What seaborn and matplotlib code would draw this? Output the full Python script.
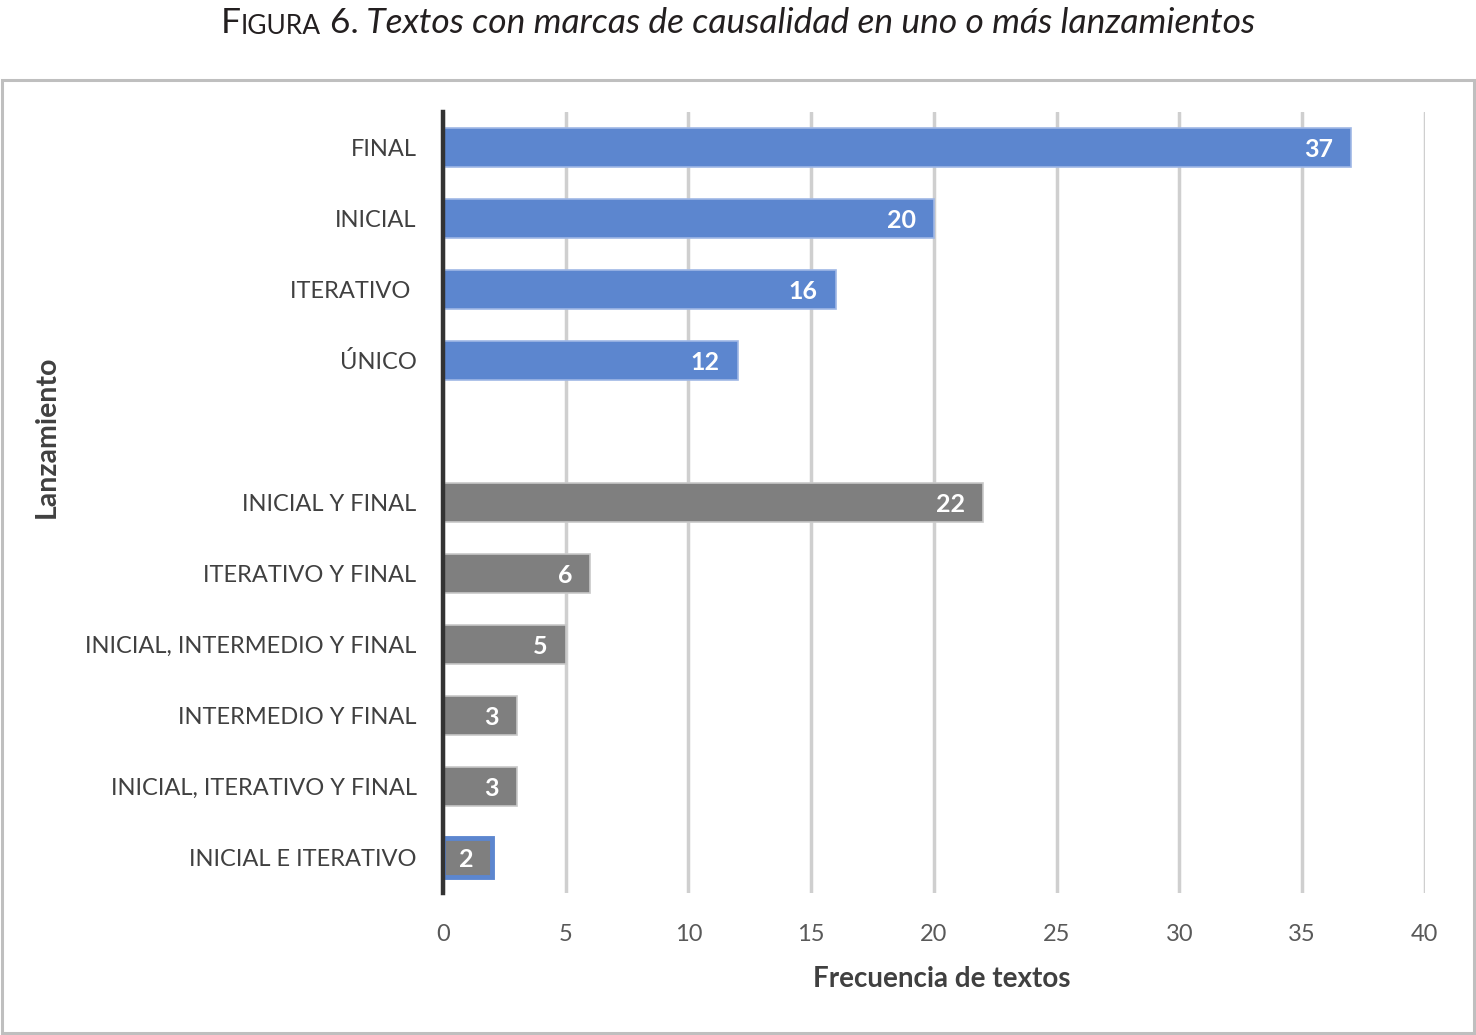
import pandas as pd
import matplotlib
matplotlib.use("Agg")
import matplotlib.pyplot as plt
import seaborn as sns
from matplotlib.patches import Rectangle

# datos
categorias = ["FINAL", "INICIAL", "ITERATIVO ", "ÚNICO",
              "INICIAL Y FINAL", "ITERATIVO Y FINAL", "INICIAL, INTERMEDIO Y FINAL",
              "INTERMEDIO Y FINAL", "INICIAL, ITERATIVO Y FINAL", "INICIAL E ITERATIVO"]
frecuencias = [37, 20, 16, 12, 22, 6, 5, 3, 3, 2]
grupos = ["uno", "uno", "uno", "uno",
          "varios", "varios", "varios", "varios", "varios", "varios"]

# hueco vacio entre los dos grupos
orden = categorias[:4] + [""] + categorias[4:]

df = pd.DataFrame({"categoria": categorias, "frecuencia": frecuencias, "grupo": grupos})

sns.set_theme(style="white")
plt.rcParams["font.family"] = ["Lato", "DejaVu Sans"]

AZUL = "#5C86CF"
GRIS = "#7F7F7F"

fig = plt.figure(figsize=(14.76, 10.35), dpi=100)
ax = fig.add_axes([0.3001, 0.1372, 0.6653, 0.7546])

sns.barplot(data=df, x="frecuencia", y="categoria", hue="grupo", order=orden,
            palette={"uno": AZUL, "varios": GRIS}, dodge=False, width=0.56,
            saturation=1, legend=False, orient="h", ax=ax, zorder=3)

bordes = {"uno": "#9fb7e5", "varios": "#c8c8c8"}
for cont, g in zip(ax.containers, ["uno", "varios"]):
    for bar in cont:
        bar.set_edgecolor(bordes[g])
        bar.set_linewidth(1.2)
    etiquetas = ax.bar_label(cont, padding=-13, color="white", fontweight="bold", fontsize=18)
    for t in etiquetas:
        t.set_ha("right")
        t.set_va("center_baseline")

# la ultima barra tiene contorno azul
pos_ultima = orden.index("INICIAL E ITERATIVO")
for bar in ax.patches:
    if round(bar.get_y() + bar.get_height() / 2) == pos_ultima:
        bar.set_edgecolor(AZUL)
        bar.set_linewidth(3.5)

ax.set_xlim(0, 40)
ax.set_xticks(range(0, 41, 5))
ax.set_ylim(10.5, -0.5)
ax.grid(axis="x", color="#cfcfcf", linewidth=2.5, zorder=0)
ax.grid(axis="y", visible=False)
ax.set_axisbelow(True)

for s in ["top", "right", "bottom"]:
    ax.spines[s].set_visible(False)
ax.spines["left"].set_color("#333333")
ax.spines["left"].set_linewidth(3.2)
ax.spines["left"].set_zorder(5)

ax.tick_params(axis="y", length=0, pad=19, labelsize=17, labelcolor="#404040")
ax.tick_params(axis="x", length=0, pad=22, labelsize=17, labelcolor="#595959")

ax.set_xlabel("Frecuencia de textos", fontsize=20, fontweight="bold", color="#404040")
ax.xaxis.set_label_coords(0.508, -0.094)
ax.set_ylabel("Lanzamiento", fontsize=20.5, fontweight="bold", color="#404040")
ax.yaxis.set_label_coords(-0.39, 0.584)

# marco gris alrededor del grafico
fig.patches.append(Rectangle((0.0015, 0.002), 0.997, 0.9207, transform=fig.transFigure,
                             fill=False, edgecolor="#bfbfbf", linewidth=2.2))

# titulo con versalitas
partes = [("IGURA", 19, "normal"), (" 6.", 25.5, "normal"),
          (" Textos con marcas de causalidad en uno o más lanzamientos", 25.5, "italic")]
primero = fig.text(0.149, 0.962, "F", fontsize=25.5, va="bottom", color="#231f20")
ultimo = primero
for texto, tam, estilo in partes:
    ultimo = ax.annotate(texto, xy=(1, 0), xycoords=ultimo, va="bottom", ha="left",
                         fontsize=tam, style=estilo, color="#231f20", annotation_clip=False)

fig.canvas.draw()
r = fig.canvas.get_renderer()
izq = primero.get_window_extent(r).x0
der = ultimo.get_window_extent(r).x1
ancho = fig.bbox.width
primero.set_x(primero.get_position()[0] + (ancho / 2 - (izq + der) / 2) / ancho)

fig.savefig("out.png", dpi=100)
